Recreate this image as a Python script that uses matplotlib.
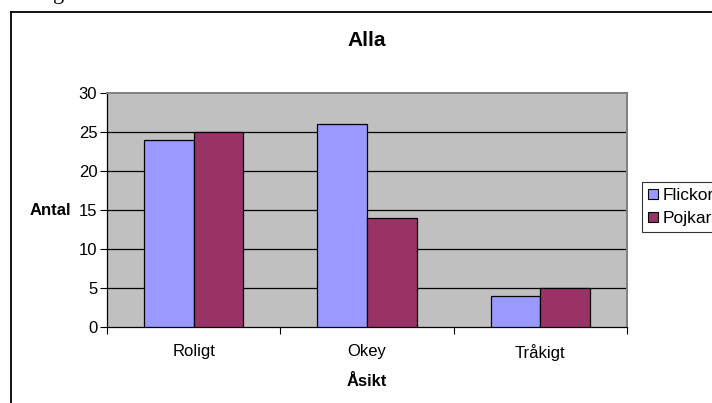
import matplotlib.pyplot as plt
from matplotlib.lines import Line2D
from matplotlib.patches import Patch
import numpy as np

plt.rcParams['font.family'] = ['Liberation Sans', 'DejaVu Sans']

categories = ['Roligt', 'Okey', 'Tråkigt']
flickor = [24, 26, 4]
pojkar = [25, 14, 5]
series_names = ['Flickor', 'Pojkar']
yticks = [0, 5, 10, 15, 20, 25, 30]

W, H = 712, 403
fig = plt.figure(figsize=(W / 100, H / 100), dpi=100)
fig.patch.set_facecolor('white')

# plot area in pixel coordinates
left, right, top, bottom = 107, 627, 93, 327
ax = fig.add_axes([left / W, 1 - bottom / H, (right - left) / W, (bottom - top) / H])
ax.set_facecolor('#C0C0C0')

x = np.arange(len(categories))
bw = 1 / 3.5
ax.bar(x - bw / 2, flickor, width=bw, color='#9999FF', edgecolor='black', linewidth=0.9, zorder=3)
ax.bar(x + bw / 2, pojkar, width=bw, color='#993366', edgecolor='black', linewidth=0.9, zorder=3)

ax.set_xlim(-0.5, len(categories) - 0.5)
ax.set_ylim(0, 30)
ax.set_yticks(yticks)
ax.tick_params(axis='y', direction='out', length=5, width=0.8, labelsize=12, pad=2)

# category boundaries carry the tick marks, labels sit at centres
ax.set_xticks(np.arange(len(categories) + 1) - 0.5)
ax.set_xticklabels([])
ax.set_xticks(x, minor=True)
ax.set_xticklabels(categories, minor=True)
ax.tick_params(axis='x', which='major', direction='out', length=5, width=0.8)
ax.tick_params(axis='x', which='minor', length=0, labelsize=12, pad=12.5)

for v in yticks[1:-1]:
    ax.axhline(v, color='black', linewidth=0.9, zorder=1)

for s in ['top', 'right']:
    ax.spines[s].set_color('#808080')
    ax.spines[s].set_linewidth(1.4)
for s in ['left', 'bottom']:
    ax.spines[s].set_color('black')
    ax.spines[s].set_linewidth(0.9)

fig.text((left + right) / 2 / W, 1 - 40 / H, 'Alla', ha='center', va='center',
         fontsize=15, fontweight='bold')
fig.text(50 / W, 1 - 211 / H, 'Antal', ha='center', va='center',
         fontsize=12, fontweight='bold')
fig.text((left + right) / 2 / W, 1 - 381 / H, 'Åsikt', ha='center', va='center',
         fontsize=12, fontweight='bold')

# chart frame
fig.add_artist(Line2D([11 / W, 11 / W], [0, 1 - 12 / H], color='black', linewidth=1.3,
                      transform=fig.transFigure))
fig.add_artist(Line2D([11 / W, 1], [1 - 12 / H, 1 - 12 / H], color='black', linewidth=1.3,
                      transform=fig.transFigure))

# tail of the preceding document line
fig.text(59 / W, 1 + 1 / H, 'g', ha='center', va='baseline', fontsize=16,
         family=['Liberation Serif', 'DejaVu Serif'])

handles = [Patch(facecolor='#9999FF', edgecolor='black', linewidth=0.8),
           Patch(facecolor='#993366', edgecolor='black', linewidth=0.8)]
leg = fig.legend(handles, series_names, loc='upper left',
                 bbox_to_anchor=(642 / W, 1 - 182 / H), fontsize=12.5,
                 handlelength=0.55, handleheight=0.55, handletextpad=0.3,
                 labelspacing=0.45, borderpad=0.35, borderaxespad=0,
                 fancybox=False, frameon=True)
leg.get_frame().set_edgecolor('black')
leg.get_frame().set_linewidth(0.8)

fig.savefig('out.png', dpi=100)
